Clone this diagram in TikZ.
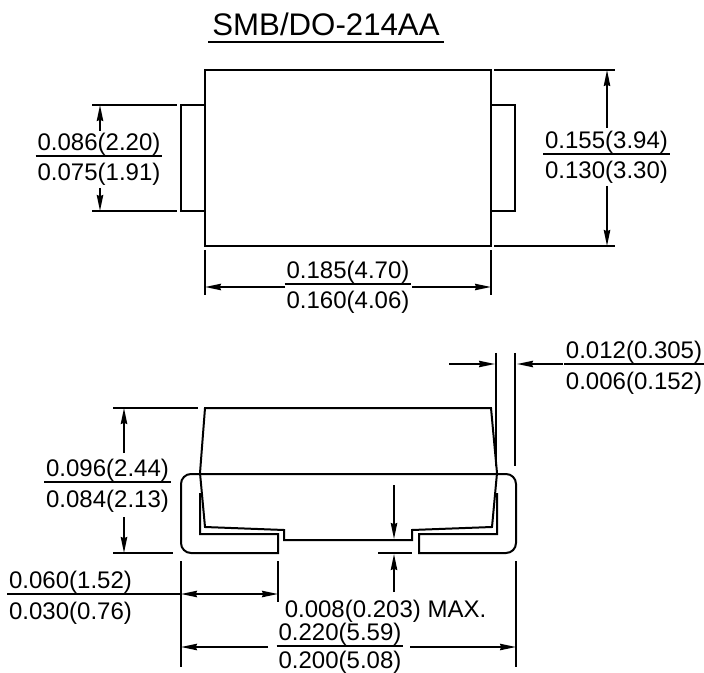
\documentclass[tikz,border=0pt]{standalone}
\usepackage{fontspec}
\setmainfont{Liberation Sans}
\usetikzlibrary{arrows.meta}
\tikzset{
    outline/.style={line width=1pt},
    dimline/.style={line width=0.85pt},
    toptext/.style={anchor=south, text height=8.3pt, text depth=0pt, inner xsep=0.75pt, inner ysep=2.5pt},
    lowtext/.style={anchor=north, text height=8.3pt, text depth=0pt, inner xsep=0.75pt, inner ysep=4pt}
}
\begin{document}
\begin{tikzpicture}[
        x=0.5pt,
        y=-0.5pt,
        >={Stealth[length=8pt,width=3.2pt,inset=0.6pt]},
        every node/.style={font=\fontsize{12}{14}\selectfont}
    ]
    \useasboundingbox (0,0) rectangle (704,672);

    % Title
    \node[anchor=south, font=\fontsize{15.6}{18}\selectfont, text height=11.2pt, text depth=0pt,
      inner xsep=2pt, inner ysep=3.25pt] (title) at (326,42.5) {SMB/DO-214AA};
    \draw[outline] (title.south west) -- (title.south east);

    % Top view, body and leads
    \draw[outline] (205,70) rectangle (491,246);
    \draw[outline] (205,105) -- (181,105) -- (181,211) -- (205,211);
    \draw[outline] (491,105) -- (515,105) -- (515,211) -- (491,211);

    % Lead width
    \draw[dimline] (92,105) -- (177,105);
    \draw[dimline] (92,211) -- (177,211);
    \node[toptext] (leadA) at (99,156) {0.086(2.20)};
    \node[lowtext] (leadB) at (99,156) {0.075(1.91)};
    \draw[dimline] (leadA.south west) -- (leadA.south east);
    \draw[dimline,->] (100,131) -- (100,105);
    \draw[dimline,->] (100,188) -- (100,211);

    % Body height
    \draw[dimline] (494,70) -- (615,70);
    \draw[dimline] (494,246) -- (615,246);
    \node[toptext] (heightA) at (606.5,154) {0.155(3.94)};
    \node[lowtext] (heightB) at (606.5,154) {0.130(3.30)};
    \draw[dimline] (heightA.south west) -- (heightA.south east);
    \draw[dimline,->] (607,128) -- (607,70);
    \draw[dimline,->] (607,186) -- (607,246);

    % Body length
    \draw[dimline] (205,250) -- (205,295);
    \draw[dimline] (491,250) -- (491,295);
    \node[toptext] (lengthA) at (348,284) {0.185(4.70)};
    \node[lowtext] (lengthB) at (348,284) {0.160(4.06)};
    \draw[dimline] (lengthA.south west) -- (lengthA.south east);
    \draw[dimline,->] (285,287) -- (205,287);
    \draw[dimline,->] (412,287) -- (491,287);

    % Side view, body
    \draw[outline] (205,408) -- (491,408) -- (497,473) -- (492,527) -- (412,530)
      -- (412,540) -- (284,540) -- (284,530) -- (205,527) -- (200,473) -- cycle;

    % Side view, leads
    \draw[outline] (200,493) -- (200,534) -- (278,534) -- (278,553)
      [rounded corners=5pt] -- (181,553) -- (181,474) -- (516,474) -- (516,553)
      [sharp corners] -- (419,553) -- (419,534) -- (497,534) -- (497,493);

    % Lead thickness
    \draw[dimline] (496,353) -- (496,466);
    \draw[dimline] (515,353) -- (515,466);
    \node[toptext] (thickA) at (634,364) {0.012(0.305)};
    \node[lowtext] (thickB) at (634,364) {0.006(0.152)};
    \draw[dimline] (thickA.south west) -- (thickA.south east);
    \draw[dimline,->] (449,364) -- (495,364);
    \draw[dimline,->] (563,364) -- (517,364);

    % Overall height
    \draw[dimline] (113,408) -- (198,408);
    \draw[dimline] (113,553) -- (173,553);
    \node[toptext] (overA) at (107.5,482) {0.096(2.44)};
    \node[lowtext] (overB) at (107.5,482) {0.084(2.13)};
    \draw[dimline] (overA.south west) -- (overA.south east);
    \draw[dimline,->] (124,453) -- (124,408);
    \draw[dimline,->] (124,517) -- (124,553);

    % Foot length
    \draw[dimline] (181,561) -- (181,667);
    \draw[dimline] (278,561) -- (278,602);
    \draw[dimline] (516,561) -- (516,667);
    \node[toptext] (footA) at (70.5,594) {0.060(1.52)};
    \node[lowtext] (footB) at (70.5,594) {0.030(0.76)};
    \draw[dimline] (footA.south west) -- (181,594);
    \draw[dimline,<->] (181,594) -- (278,594);

    % Stand off
    \draw[dimline] (378,553) -- (412,553);
    \draw[dimline,->] (394,485) -- (394,539);
    \draw[dimline,->] (394,592) -- (394,554);
    \node (standoff) at (385.5,611) {0.008(0.203) MAX.};

    % Overall length
    \node[toptext] (totalA) at (340,646) {0.220(5.59)};
    \node[lowtext, inner ysep=2.5pt] (totalB) at (340,646) {0.200(5.08)};
    \draw[dimline] (totalA.south west) -- (totalA.south east);
    \draw[dimline,->] (268,647) -- (181,647);
    \draw[dimline,->] (410,647) -- (516,647);
\end{tikzpicture}
\end{document}
